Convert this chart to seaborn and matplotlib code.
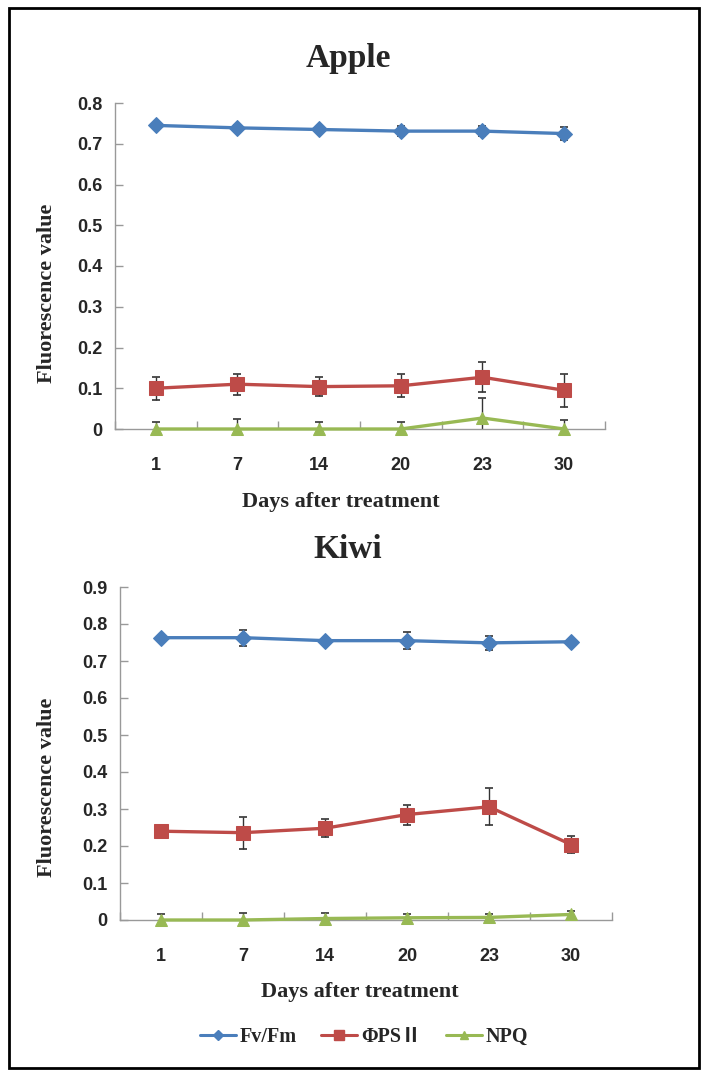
import numpy as np
import pandas as pd
import matplotlib
matplotlib.use("Agg")
import matplotlib.pyplot as plt
from matplotlib.lines import Line2D
from matplotlib.patches import Rectangle
import seaborn as sns

# =========================
# DATA
# =========================
days = ["1", "7", "14", "20", "23", "30"]
series_names = ["Fv/Fm", "ΦPSⅡ", "NPQ"]

apple_fvfm = [0.745, 0.739, 0.735, 0.731, 0.731, 0.725]
apple_fvfm_err = [0.005, 0.006, 0.006, 0.013, 0.013, 0.017]
apple_phi = [0.100, 0.110, 0.104, 0.106, 0.127, 0.095]
apple_phi_err = [0.028, 0.026, 0.024, 0.028, 0.037, 0.041]
apple_npq = [0.0, 0.0, 0.0, 0.0, 0.027, 0.0]
apple_npq_err = [0.016, 0.025, 0.016, 0.016, 0.050, 0.023]

kiwi_fvfm = [0.763, 0.763, 0.755, 0.755, 0.749, 0.752]
kiwi_fvfm_err = [0.004, 0.022, 0.004, 0.023, 0.019, 0.004]
kiwi_phi = [0.240, 0.236, 0.248, 0.285, 0.306, 0.204]
kiwi_phi_err = [0.005, 0.043, 0.024, 0.027, 0.050, 0.024]
kiwi_npq = [0.0, 0.0, 0.004, 0.006, 0.007, 0.015]
kiwi_npq_err = [0.015, 0.020, 0.014, 0.010, 0.010, 0.010]

colors = ["#4A7EBB", "#BE4B48", "#98B954"]
markers = ["D", "s", "^"]
msizes = [8, 10, 9]

sns.set_style("white")
serif = ["Liberation Serif", "Noto Sans CJK SC", "DejaVu Serif"]
sans = ["Liberation Sans", "DejaVu Sans"]

fig = plt.figure(figsize=(7.07, 10.76), dpi=100)


def draw_panel(rect, title, title_xy, ylab_xy, xlab_xy, vals, errs, ymax):
    ax = fig.add_axes(rect)
    pos = np.arange(len(days))
    for i in range(3):
        ax.errorbar(pos, vals[i], yerr=errs[i], fmt="none", ecolor="#333333",
                    elinewidth=1.0, capsize=3, capthick=1.2, zorder=2)
        sns.lineplot(x=pos, y=vals[i], color=colors[i], marker=markers[i],
                     markersize=msizes[i], markeredgecolor=colors[i],
                     linewidth=2.4, ax=ax, zorder=3, clip_on=False)
    ax.set_xlim(-0.5, len(days) - 0.5)
    ax.set_ylim(0, ymax)
    ax.set_yticks(np.round(np.arange(0, ymax + 0.001, 0.1), 1))
    ax.yaxis.set_major_formatter(plt.FuncFormatter(lambda v, p: "0" if v == 0 else f"{v:.1f}"))
    ax.set_xticks(pos)
    ax.set_xticklabels(days)
    ax.set_xticks(np.arange(-0.5, len(days)), minor=True)
    ax.tick_params(axis="x", which="major", length=0, pad=20)
    ax.tick_params(axis="x", which="minor", direction="in", length=6, width=1,
                   color="#999999", bottom=True)
    ax.tick_params(axis="y", direction="in", length=6, width=1, color="#999999", pad=9, left=True)
    for lab in ax.get_xticklabels() + ax.get_yticklabels():
        lab.set_fontfamily(sans)
        lab.set_fontweight("bold")
        lab.set_fontsize(13)
    for s in ["top", "right"]:
        ax.spines[s].set_visible(False)
    for s in ["left", "bottom"]:
        ax.spines[s].set_color("#999999")
        ax.spines[s].set_linewidth(1.0)
    ax.set_xlabel("")
    ax.set_ylabel("")
    fig.text(title_xy[0] / 707, 1 - title_xy[1] / 1076, title, ha="center", va="center",
             fontsize=24, fontweight="bold", family=serif)
    fig.text(ylab_xy[0] / 707, 1 - ylab_xy[1] / 1076, "Fluorescence value", ha="center",
             va="center", rotation=90, fontsize=16, fontweight="bold", family=serif)
    fig.text(xlab_xy[0] / 707, 1 - xlab_xy[1] / 1076, "Days after treatment", ha="center",
             va="center", fontsize=16, fontweight="bold", family=serif)
    return ax


draw_panel([115 / 707, 1 - 429 / 1076, 490 / 707, 326 / 1076], "Apple",
           (348, 58), (47, 293), (341, 502),
           [apple_fvfm, apple_phi, apple_npq],
           [apple_fvfm_err, apple_phi_err, apple_npq_err], 0.8)

draw_panel([120 / 707, 1 - 920 / 1076, 492 / 707, 333 / 1076], "Kiwi",
           (348, 550), (47, 787), (360, 992),
           [kiwi_fvfm, kiwi_phi, kiwi_npq],
           [kiwi_fvfm_err, kiwi_phi_err, kiwi_npq_err], 0.9)

handles = [Line2D([0], [0], color=colors[i], marker=markers[i], markersize=msizes[i] * 0.7,
                  linewidth=2.2) for i in range(3)]
fig.legend(handles, series_names, loc="center", bbox_to_anchor=(364 / 707, 1 - 1037 / 1076),
           ncol=3, frameon=False, handlelength=1.8, handletextpad=0.2, columnspacing=1.2,
           prop={"family": serif, "weight": "bold", "size": 14.5})

fig.patches.append(Rectangle((9 / 707, 8 / 1076), 690 / 707, 1060 / 1076,
                             transform=fig.transFigure, fill=False, edgecolor="black",
                             linewidth=2))

fig.savefig("out.png", dpi=100)
